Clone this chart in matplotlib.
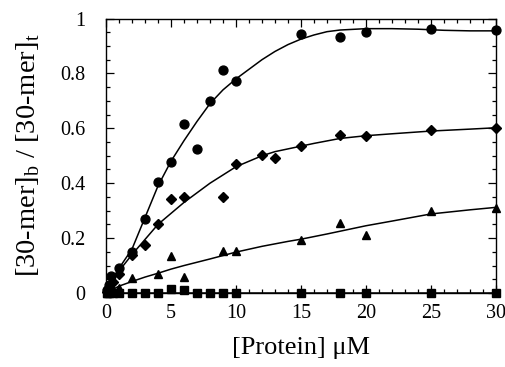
import numpy as np
import matplotlib
matplotlib.use("Agg")
import matplotlib.pyplot as plt
from matplotlib.ticker import MultipleLocator

plt.rcParams['font.family'] = ['Liberation Serif', 'DejaVu Serif']
plt.rcParams['mathtext.fontset'] = 'custom'
plt.rcParams['mathtext.rm'] = 'Liberation Serif'

# ---- data points ----
circle_x = [0.1, 0.25, 0.4, 1, 2, 3, 4, 5, 6, 7, 8, 9, 10, 15, 18, 20, 25, 30]
circle_y = [0.01, 0.03, 0.062, 0.092, 0.15, 0.27, 0.405, 0.476, 0.614, 0.526, 0.70, 0.814,
            0.771, 0.945, 0.932, 0.95, 0.961, 0.959]

diamond_x = [0.1, 0.25, 0.5, 1, 2, 3, 4, 5, 6, 9, 10, 12, 13, 15, 18, 20, 25, 30]
diamond_y = [0.005, 0.02, 0.04, 0.07, 0.14, 0.175, 0.25, 0.342, 0.348, 0.35, 0.47, 0.502,
             0.492, 0.536, 0.576, 0.573, 0.592, 0.601]

triangle_x = [0.1, 0.25, 0.5, 1, 2, 4, 5, 6, 9, 10, 15, 18, 20, 25, 30]
triangle_y = [0.0, 0.005, 0.01, 0.02, 0.055, 0.068, 0.136, 0.058, 0.152, 0.152, 0.193,
              0.254, 0.21, 0.297, 0.311]

square_x = [0.1, 0.25, 0.5, 1, 2, 3, 4, 5, 6, 7, 8, 9, 10, 15, 18, 20, 25, 30]
square_y = [0, 0, 0, 0, 0, 0, 0, 0.015, 0.01, 0, 0, 0, 0, 0, 0, 0, 0, 0]

# ---- fitted curves ----
fit_circle_x = [0, 0.5, 1, 2, 3, 4, 5, 6, 7, 8, 9, 10, 11, 12, 13, 14, 15, 16, 17, 18, 20,
                22, 24, 26, 28, 30]
fit_circle_y = [0, 0.045, 0.09, 0.16, 0.275, 0.39, 0.48, 0.555, 0.625, 0.69, 0.74, 0.78,
                0.815, 0.85, 0.88, 0.905, 0.925, 0.94, 0.952, 0.958, 0.963, 0.963, 0.961,
                0.957, 0.955, 0.955]

fit_diamond_x = [0, 0.5, 1, 2, 3, 4, 5, 6, 7, 8, 9, 10, 11, 12, 13, 14, 15, 16, 18, 20,
                 22, 25, 28, 30]
fit_diamond_y = [0, 0.04, 0.08, 0.14, 0.195, 0.25, 0.29, 0.33, 0.365, 0.4, 0.43, 0.46,
                 0.48, 0.5, 0.515, 0.525, 0.535, 0.545, 0.563, 0.573, 0.58, 0.59, 0.597,
                 0.602]

fit_triangle_x = [0, 1, 2, 3, 4, 5, 6, 8, 10, 12, 14, 15, 17, 20, 22, 25, 28, 30]
fit_triangle_y = [0, 0.025, 0.042, 0.058, 0.072, 0.087, 0.1, 0.124, 0.149, 0.17, 0.188,
                  0.196, 0.215, 0.245, 0.262, 0.288, 0.303, 0.312]

fit_square_x = [0, 30]
fit_square_y = [0, 0]

x_ticks = [0, 5, 10, 15, 20, 25, 30]
y_ticks = [0, 0.2, 0.4, 0.6, 0.8, 1]
y_tick_labels = ['0', '0.2', '0.4', '0.6', '0.8', '1']

fig = plt.figure(figsize=(5.06, 3.67), dpi=100)
ax = fig.add_axes([106/506, 1 - 293/367, (496-106)/506, (293-18.5)/367])

lw = 1.1
for fx, fy in [(fit_circle_x, fit_circle_y), (fit_diamond_x, fit_diamond_y),
               (fit_triangle_x, fit_triangle_y), (fit_square_x, fit_square_y)]:
    ax.plot(fx, fy, color='black', lw=lw, clip_on=False, zorder=2)

ax.plot(circle_x, circle_y, 'o', color='black', ms=6.4, clip_on=False, zorder=3)
ax.plot(diamond_x, diamond_y, 'D', color='black', ms=5.2, clip_on=False, zorder=3)
ax.plot(triangle_x, triangle_y, '^', color='black', ms=6.2, clip_on=False, zorder=3)
ax.plot(square_x, square_y, 's', color='black', ms=5.3, clip_on=False, zorder=3)

ax.set_xlim(0, 30)
ax.set_ylim(0, 1)
ax.set_xticks(x_ticks)
ax.set_xticklabels([str(t) for t in x_ticks])
ax.set_yticks(y_ticks)
ax.set_yticklabels(y_tick_labels)
ax.xaxis.set_minor_locator(MultipleLocator(1))
ax.yaxis.set_minor_locator(MultipleLocator(0.05))
ax.tick_params(which='both', direction='in', top=True, right=True, width=0.9,
               labelsize=14.5)
ax.tick_params(which='major', length=5.5)
ax.tick_params(axis='x', which='major', pad=8)
ax.tick_params(axis='y', which='major', pad=15)
ax.tick_params(which='minor', length=3)
for s in ax.spines.values():
    s.set_linewidth(1.0)

ax.set_xlabel('[Protein] \u03bcM', fontsize=19)
ax.set_ylabel(r'[30-mer]$_\mathregular{b}$ / [30-mer]$_\mathregular{t}$', fontsize=20.5)
ax.xaxis.set_label_coords(0.5, (293 - 348) / 274.5)
ax.xaxis.label.set_va('center')
ax.yaxis.set_label_coords((28 - 106) / 390, 0.5)
ax.yaxis.label.set_va('center')

fig.savefig('out.png', dpi=100)
